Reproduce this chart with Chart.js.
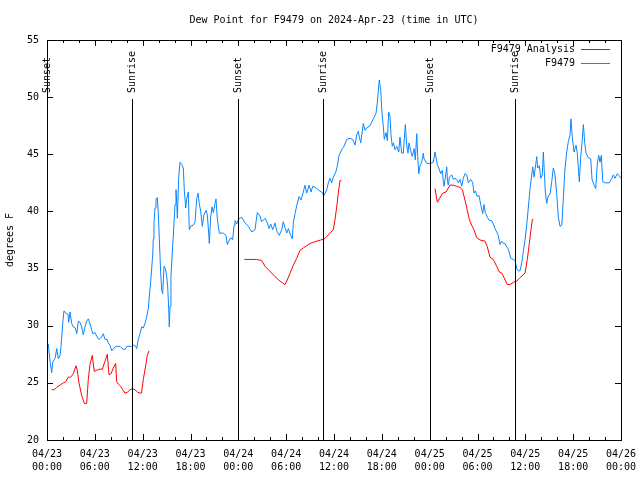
<!DOCTYPE html>
<html>
<head>
<meta charset="utf-8">
<script src="https://cdn.jsdelivr.net/npm/chart.js@4.4.1/dist/chart.umd.min.js"></script>
<style>
  body { margin: 0; background: #fff; }
  canvas { display: block; }
</style>
</head>
<body>
<canvas id="dewChart" width="640" height="480"></canvas>
<script>
// hours since 04/23 00:00 UTC
const stationHours = [
  0.16, 0.38, 0.59, 0.72, 1.04, 1.22, 1.42, 1.63, 1.76, 1.97, 2.13, 2.35, 2.63, 2.72, 2.89, 3.10,
  3.30, 3.55, 3.73, 3.93, 4.14, 4.35, 4.55, 4.77, 4.98, 5.18, 5.39, 5.73, 6.02, 6.23, 6.49, 6.86,
  7.06, 7.28, 7.56, 7.69, 7.90, 8.12, 8.32, 8.66, 9.16, 9.41, 9.78, 10.00, 10.62, 10.83, 11.13, 11.25,
  11.45, 11.67, 11.88, 12.08, 12.29, 12.51, 12.71, 12.83, 13.01, 13.13, 13.26, 13.33, 13.42, 13.55, 13.67, 13.84,
  13.96, 14.09, 14.26, 14.39, 14.51, 14.68, 14.84, 15.02, 15.14, 15.27, 15.34, 15.43, 15.55, 15.68, 15.84, 16.06,
  16.18, 16.27, 16.35, 16.52, 16.68, 16.90, 17.10, 17.22, 17.40, 17.52, 17.72, 17.85, 18.03, 18.35, 18.57, 18.78,
  18.94, 19.10, 19.28, 19.48, 19.69, 19.95, 20.11, 20.28, 20.36, 20.53, 20.70, 20.86, 21.07, 21.20, 21.36, 21.61,
  22.12, 22.45, 22.62, 22.87, 23.04, 23.29, 23.46, 23.58, 23.80, 24.00, 24.42, 24.84, 25.25, 25.68, 26.09, 26.38,
  26.72, 26.93, 27.35, 27.63, 27.85, 28.06, 28.31, 28.60, 28.81, 29.14, 29.44, 29.64, 29.89, 30.07, 30.27, 30.57,
  30.77, 30.90, 31.11, 31.32, 31.61, 31.86, 32.15, 32.36, 32.58, 32.87, 33.12, 33.33, 33.62, 33.83, 34.16, 34.46,
  34.75, 35.09, 35.29, 35.50, 35.71, 35.91, 36.25, 36.42, 36.63, 36.84, 37.04, 37.26, 37.59, 38.01, 38.35, 38.64,
  38.85, 39.05, 39.18, 39.35, 39.48, 39.68, 39.89, 40.10, 40.52, 40.93, 41.27, 41.43, 41.68, 41.86, 42.02, 42.19,
  42.31, 42.52, 42.69, 42.86, 43.03, 43.15, 43.31, 43.46, 43.65, 43.87, 44.12, 44.28, 44.49, 44.69, 44.95, 45.12,
  45.28, 45.41, 45.62, 45.82, 46.04, 46.20, 46.38, 46.50, 46.63, 46.79, 47.00, 47.20, 47.29, 47.63, 48.04, 48.46,
  48.67, 48.96, 49.09, 49.39, 49.58, 49.71, 49.80, 50.01, 50.14, 50.24, 50.34, 50.47, 50.77, 50.97, 51.18, 51.39,
  51.59, 51.81, 52.02, 52.22, 52.43, 52.65, 52.85, 53.15, 53.40, 53.56, 53.73, 53.98, 54.19, 54.40, 54.65, 54.82,
  54.98, 55.23, 55.48, 55.78, 55.98, 56.20, 56.41, 56.61, 56.82, 57.04, 57.24, 57.45, 57.66, 57.87, 58.17, 58.49,
  58.71, 58.92, 59.12, 59.33, 59.55, 59.75, 59.96, 60.17, 60.37, 60.59, 60.80, 60.93, 61.09, 61.30, 61.43, 61.55,
  61.76, 61.93, 62.13, 62.26, 62.38, 62.51, 62.68, 62.88, 63.10, 63.31, 63.51, 63.72, 63.94, 64.14, 64.35, 64.57,
  64.77, 64.98, 65.19, 65.39, 65.61, 65.73, 65.89, 66.11, 66.36, 66.52, 66.77, 66.95, 67.11, 67.28, 67.45, 67.61,
  67.90, 68.20, 68.37, 68.62, 68.83, 69.03, 69.21, 69.37, 69.53, 69.71, 70.00, 70.54, 70.84, 71.04, 71.25, 71.54,
  71.79, 71.97
]
const stationDew = [
  28.4, 26.9, 25.9, 26.8, 27.2, 28.0, 27.1, 27.4, 28.2, 30.2, 31.3, 31.1, 31.0, 30.3, 31.2, 30.2,
  29.9, 29.8, 29.3, 30.4, 30.3, 29.9, 29.2, 29.9, 30.4, 30.6, 30.2, 29.3, 29.4, 29.1, 28.8, 29.0,
  29.3, 28.8, 28.8, 28.5, 28.3, 27.8, 28.0, 28.2, 28.2, 28.0, 27.9, 28.2, 28.2, 28.3, 28.2, 28.0,
  28.8, 29.3, 29.9, 29.8, 30.2, 30.8, 31.5, 32.5, 33.9, 35.0, 36.2, 37.6, 39.0, 40.3, 41.1, 41.2,
  39.8, 37.6, 34.6, 33.1, 32.8, 35.2, 35.0, 34.3, 33.4, 31.4, 29.9, 31.7, 34.3, 36.0, 37.8, 40.6,
  41.9, 40.8, 39.4, 43.0, 44.3, 44.1, 43.8, 41.9, 40.3, 41.1, 41.7, 38.4, 38.7, 38.8, 39.1, 41.1,
  41.6, 40.7, 40.0, 38.7, 39.7, 40.1, 39.7, 38.1, 37.2, 39.5, 40.4, 39.9, 40.7, 41.1, 39.4, 38.1,
  38.1, 37.9, 37.1, 37.5, 37.7, 37.5, 38.8, 39.2, 38.9, 39.3, 39.5, 39.0, 38.7, 38.2, 38.4, 39.9,
  39.6, 39.1, 39.4, 39.0, 38.5, 38.9, 38.4, 39.0, 38.3, 37.9, 38.4, 39.1, 38.5, 38.1, 38.5, 37.9,
  37.6, 39.0, 39.8, 40.5, 41.3, 41.0, 41.7, 42.3, 41.6, 42.3, 41.7, 42.2, 42.1, 42.0, 41.8, 41.7,
  41.4, 41.9, 42.5, 42.9, 42.5, 43.0, 43.5, 44.0, 44.9, 45.2, 45.5, 45.7, 46.3, 46.4, 46.3, 45.8,
  46.7, 47.0, 46.5, 46.0, 46.7, 47.7, 47.1, 47.3, 47.5, 48.1, 48.6, 49.5, 51.5, 50.6, 48.6, 47.4,
  46.3, 46.9, 46.2, 48.7, 48.3, 46.7, 45.7, 46.0, 45.4, 45.7, 45.2, 46.5, 45.1, 45.1, 47.6, 45.8,
  45.1, 46.0, 45.3, 44.8, 45.5, 44.5, 46.8, 44.8, 43.3, 44.0, 44.3, 45.1, 44.6, 44.2, 44.2, 44.3,
  45.2, 44.1, 43.9, 43.3, 43.6, 42.6, 42.2, 43.2, 43.9, 42.6, 42.3, 43.0, 43.2, 42.8, 42.9, 42.8,
  42.5, 42.8, 42.2, 42.9, 43.3, 43.2, 42.5, 42.8, 42.5, 41.6, 41.8, 41.3, 41.4, 40.6, 39.8, 40.6,
  39.9, 39.5, 39.2, 39.2, 38.9, 38.5, 38.2, 37.9, 37.1, 37.4, 37.2, 37.2, 36.9, 36.7, 35.9, 35.8,
  35.7, 35.0, 34.8, 34.8, 35.5, 36.5, 37.5, 38.8, 40.3, 42.0, 43.2, 43.9, 43.0, 44.1, 44.8, 43.8,
  44.0, 42.9, 43.2, 45.2, 43.5, 41.7, 40.7, 41.4, 41.5, 42.6, 43.8, 43.2, 41.5, 39.5, 38.7, 38.8,
  41.2, 43.8, 45.2, 46.1, 46.7, 48.1, 46.5, 45.2, 45.8, 45.1, 42.6, 44.8, 46.0, 47.6, 46.0, 45.1,
  44.7, 44.6, 42.8, 42.3, 42.0, 44.2, 44.9, 44.3, 44.9, 42.6, 42.5, 42.5, 42.9, 43.2, 42.9, 43.3,
  43.1, 42.9
]

// analysis runs, null marks a gap between runs
const analysisHours = [
  0.59, 0.92, 1.22, 1.63, 2.04, 2.35, 2.67, 2.97, 3.30, 3.64, 3.80, 4.01, 4.35, 4.68, 4.98, 5.18,
  5.39, 5.68, 5.93, 6.23, 6.65, 6.94, 7.28, 7.56, 7.78, 8.03, 8.32, 8.62, 8.74, 8.94, 9.24, 9.50,
  9.78, 10.12, 10.41, 10.75, 11.04, 11.33, 11.67, 11.85, 12.08, 12.38, 12.58, 12.79,
  18.00,
  24.75, 26.30, 26.93, 27.35, 27.76, 28.19, 28.60, 29.23, 29.85, 30.14, 30.48, 30.90, 31.32, 31.74, 32.15, 32.58,
  32.99, 33.40, 33.83, 34.33, 34.78, 35.09, 35.50, 35.91, 36.13, 36.34, 36.54, 36.75, 36.92,
  42.00,
  48.67, 48.96, 49.21, 49.64, 50.05, 50.55, 50.97, 51.39, 51.81, 52.10, 52.43, 52.72, 52.97, 53.27, 53.56, 53.90,
  54.32, 54.94, 55.23, 55.57, 55.98, 56.41, 56.74, 57.04, 57.33, 57.74, 58.08, 58.49, 58.92, 59.33, 59.96, 60.25,
  60.50, 60.71, 60.88, 61.00
]
const analysisDew = [
  24.4, 24.4, 24.6, 24.8, 25.0, 25.1, 25.5, 25.5, 25.8, 26.5, 26.1, 25.0, 23.9, 23.2, 23.2, 25.3,
  26.6, 27.4, 26.0, 26.1, 26.2, 26.2, 26.9, 27.5, 25.7, 25.8, 26.3, 26.7, 25.1, 24.9, 24.7, 24.4,
  24.1, 24.2, 24.4, 24.5, 24.4, 24.2, 24.1, 24.1, 25.3, 26.5, 27.4, 27.8,
  null,
  35.8, 35.8, 35.7, 35.2, 34.9, 34.6, 34.3, 33.9, 33.6, 34.0, 34.6, 35.3, 35.9, 36.6, 36.8, 37.0,
  37.2, 37.3, 37.4, 37.5, 37.6, 37.8, 38.1, 38.4, 39.3, 40.4, 41.6, 42.7, 42.7,
  null,
  42.0, 40.8, 41.1, 41.6, 41.7, 42.3, 42.3, 42.2, 42.1, 41.9, 41.0, 40.1, 39.3, 38.8, 38.4, 37.7,
  37.5, 37.4, 36.9, 36.0, 35.8, 35.2, 34.7, 34.6, 34.2, 33.6, 33.6, 33.8, 33.9, 34.2, 34.6, 35.8,
  37.2, 38.4, 39.3, 39.3
]

const sunHours = [0.02, 10.66, 23.96, 34.62, 48.04, 58.71]
const sunLabels = ["Sunset", "Sunrise", "Sunset", "Sunrise", "Sunset", "Sunrise"]

const titleText = "Dew Point for F9479 on 2024-Apr-23 (time in UTC)"
const MONO = "'DejaVu Sans Mono', 'Liberation Mono', monospace"

function toPoints(xs, ys) {
  return xs.map((x, i) => ({ x, y: ys[i] }))
}

function pad2(n) {
  return String(n).padStart(2, "0")
}

const decorations = {
  id: "decorations",
  afterDatasetsDraw(chart) {
    const { ctx, chartArea: area } = chart
    const xs = chart.scales.x
    const ys = chart.scales.y
    ctx.save()
    ctx.strokeStyle = "#000"
    ctx.lineWidth = 1
    ctx.fillStyle = "#000"
    ctx.font = "10px " + MONO

    // sunrise / sunset markers
    sunHours.forEach((h, i) => {
      const px = Math.round(xs.getPixelForValue(h)) + 0.5
      ctx.beginPath()
      ctx.moveTo(px, 99)
      ctx.lineTo(px, area.bottom)
      ctx.stroke()
      ctx.save()
      ctx.translate(px, 93)
      ctx.rotate(-Math.PI / 2)
      ctx.textAlign = "left"
      ctx.textBaseline = "middle"
      ctx.fillText(sunLabels[i], 0, 0)
      ctx.restore()
    })

    // frame
    ctx.strokeRect(area.left + 0.5, area.top + 0.5, area.right - area.left, area.bottom - area.top)

    // inward tick marks, mirrored
    ctx.beginPath()
    xs.ticks.forEach((t) => {
      const px = Math.round(xs.getPixelForValue(t.value)) + 0.5
      const len = t.value % 6 === 0 ? 6 : 3
      ctx.moveTo(px, area.bottom)
      ctx.lineTo(px, area.bottom - len)
      ctx.moveTo(px, area.top)
      ctx.lineTo(px, area.top + len)
    })
    ys.ticks.forEach((t) => {
      const py = Math.round(ys.getPixelForValue(t.value)) + 0.5
      ctx.moveTo(area.left, py)
      ctx.lineTo(area.left + 6, py)
      ctx.moveTo(area.right, py)
      ctx.lineTo(area.right - 6, py)
    })
    ctx.stroke()

    // title
    ctx.textAlign = "center"
    ctx.textBaseline = "middle"
    ctx.fillText(titleText, (area.left + area.right) / 2, 20)

    // key, top right
    ctx.textAlign = "right"
    chart.data.datasets.forEach((ds, i) => {
      const y = 49 + i * 14
      ctx.fillStyle = "#000"
      ctx.fillText(ds.label, 575, y)
      ctx.strokeStyle = ds.borderColor
      ctx.beginPath()
      ctx.moveTo(581, y + 0.5)
      ctx.lineTo(610, y + 0.5)
      ctx.stroke()
    })
    ctx.restore()
  },
}

new Chart(document.getElementById("dewChart"), {
  type: "line",
  data: {
    datasets: [
      {
        label: "F9479 Analysis",
        data: toPoints(analysisHours, analysisDew),
        borderColor: "#ff0000",
        borderWidth: 1,
        pointRadius: 0,
        tension: 0,
        spanGaps: false,
      },
      {
        label: "F9479",
        data: toPoints(stationHours, stationDew),
        borderColor: "#0a86ff",
        borderWidth: 1,
        pointRadius: 0,
        tension: 0,
      },
    ],
  },
  options: {
    responsive: false,
    animation: false,
    layout: { padding: { top: 40, right: 19, bottom: 0, left: 0 } },
    plugins: {
      legend: { display: false },
      tooltip: { enabled: false },
    },
    scales: {
      x: {
        type: "linear",
        min: 0,
        max: 72,
        afterFit: (scale) => {
          scale.height = 40
          scale.paddingLeft = 0
          scale.paddingRight = 0
        },
        grid: { display: false, drawTicks: false },
        border: { display: false },
        ticks: {
          stepSize: 2,
          autoSkip: false,
          maxRotation: 0,
          padding: 8,
          color: "#000",
          font: { family: MONO, size: 10, lineHeight: 1.3 },
          callback: (v) => {
            if (v % 6 !== 0) return ""
            return ["04/" + (23 + Math.floor(v / 24)), pad2(v % 24) + ":00"]
          },
        },
      },
      y: {
        min: 20,
        max: 55,
        afterFit: (scale) => { scale.width = 47 },
        grid: { display: false, drawTicks: false },
        border: { display: false },
        ticks: {
          stepSize: 5,
          padding: 8,
          color: "#000",
          font: { family: MONO, size: 10 },
        },
        title: {
          display: true,
          text: "degrees F",
          color: "#000",
          padding: { top: 4, bottom: 0 },
          font: { family: MONO, size: 10 },
        },
      },
    },
  },
  plugins: [decorations],
})
</script>
</body>
</html>
